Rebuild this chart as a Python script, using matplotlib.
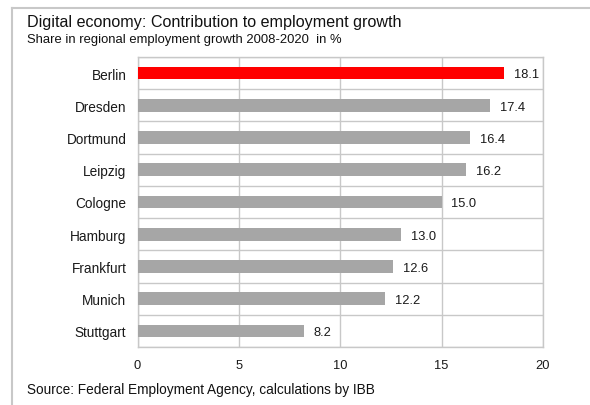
import matplotlib
matplotlib.use("Agg")
import matplotlib.pyplot as plt
from matplotlib.lines import Line2D
import numpy as np

cities = ["Berlin", "Dresden", "Dortmund", "Leipzig", "Cologne",
          "Hamburg", "Frankfurt", "Munich", "Stuttgart"]
shares = [18.1, 17.4, 16.4, 16.2, 15.0, 13.0, 12.6, 12.2, 8.2]
x_ticks = [0, 5, 10, 15, 20]

plt.rcParams['font.family'] = ['Liberation Sans', 'DejaVu Sans']
grid_col = '#c8c8c8'
txt_col = '#1a1a1a'

W, H = 590, 406
fig = plt.figure(figsize=(W / 100, H / 100), dpi=100)
ax = fig.add_axes([137.5 / W, 1 - 348 / H, (543 - 137.5) / W, (348 - 58) / H])

y = np.arange(len(cities))
colors = ['#ff0000'] + ['#a6a6a6'] * (len(cities) - 1)
ax.barh(y, shares, height=0.39, color=colors, zorder=3)

for yi, v in zip(y, shares):
    ax.annotate(f"{v:.1f}", (v, yi), xytext=(7, -1), textcoords='offset points',
                ha='left', va='center', fontsize=9.3, color=txt_col)

ax.set_xlim(0, 20)
ax.set_ylim(len(cities) - 0.5, -0.5)
ax.set_xticks(x_ticks)
ax.set_yticks(y)
ax.set_yticklabels(cities, fontsize=9.8)
ax.tick_params(axis='both', length=0, colors=txt_col)
ax.tick_params(axis='x', pad=8.5, labelsize=9.3)
ax.tick_params(axis='y', pad=8)

# gridlines: vertical at ticks, horizontal between categories
ax.grid(axis='x', color=grid_col, lw=1, zorder=0)
for b in np.arange(-0.5, len(cities), 1.0):
    ax.axhline(b, color=grid_col, lw=1, zorder=1)
for s in ax.spines.values():
    s.set_color(grid_col)
    s.set_linewidth(1)

# outer frame
fig.add_artist(Line2D([12 / W, 12 / W], [0, 1 - 9 / H], color=grid_col, lw=1.5))
fig.add_artist(Line2D([12 / W, 1], [1 - 9 / H, 1 - 9 / H], color=grid_col, lw=1.5))

fig.text(27 / W, 1 - 23 / H, "Digital economy: Contribution to employment growth",
         fontsize=11.6, va='center', ha='left', color='#111111')
fig.text(27 / W, 1 - 40 / H, "Share in regional employment growth 2008-2020  in %",
         fontsize=9.4, va='center', ha='left', color='#111111')
fig.text(27 / W, 1 - 390 / H, "Source: Federal Employment Agency, calculations by IBB",
         fontsize=9.8, va='center', ha='left', color='#111111')

fig.savefig("out.png", dpi=100)
